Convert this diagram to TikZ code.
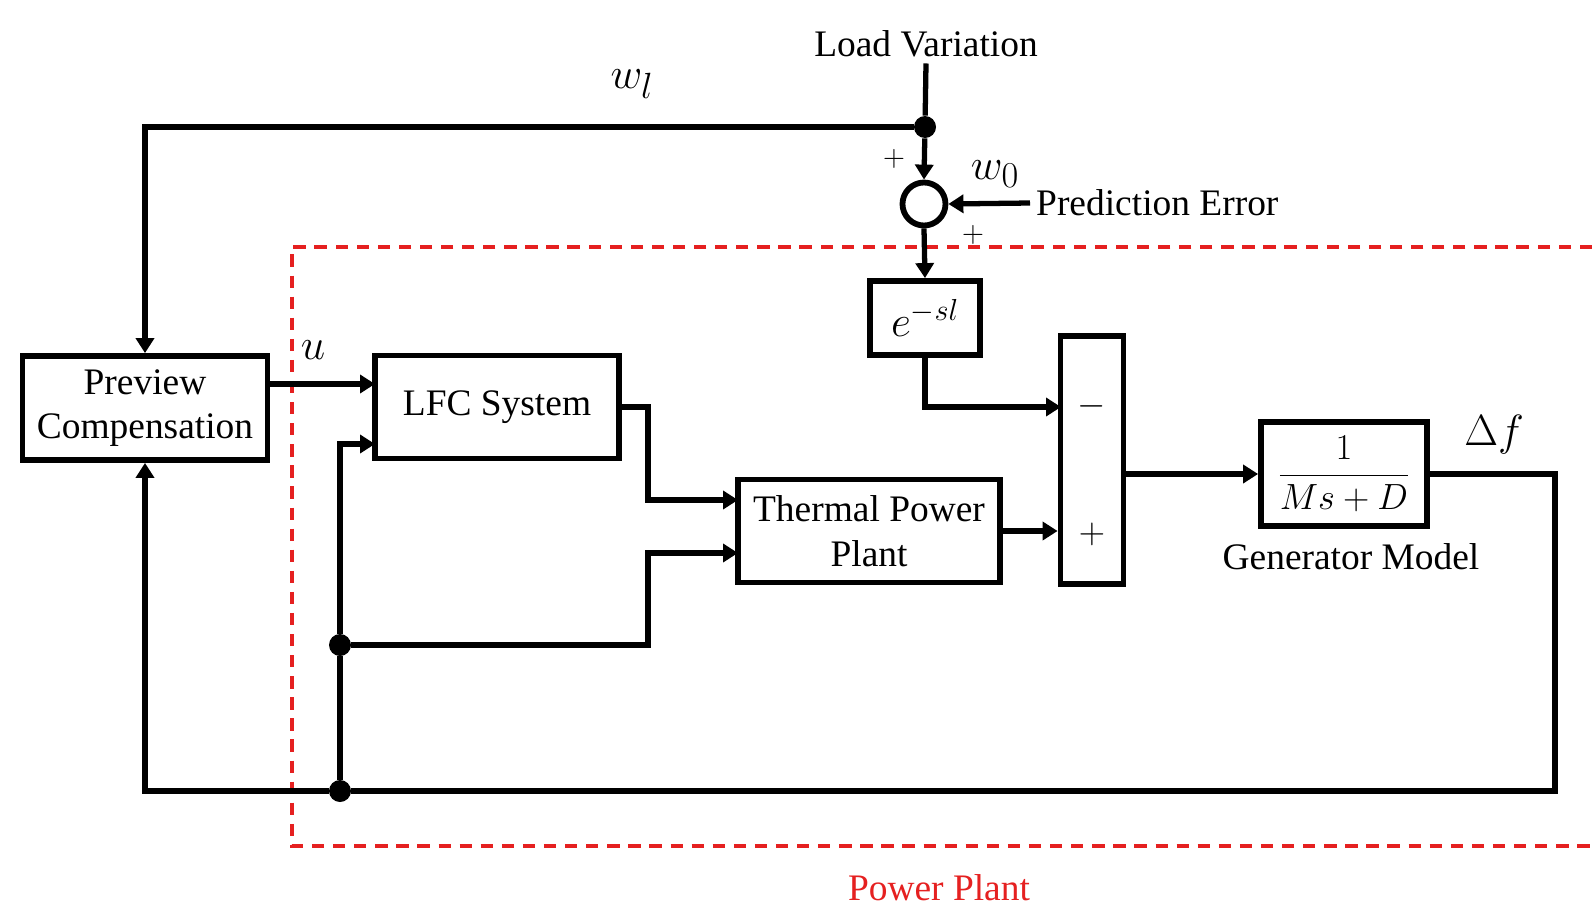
\documentclass[tikz,border=0pt]{standalone}
\usepackage{amsmath}
\usepackage{fontspec}
\setmainfont{Liberation Serif}
\usetikzlibrary{arrows.meta,positioning}
\definecolor{PlantRed}{HTML}{E52020}

\begin{document}
\begin{tikzpicture}[x=0.2mm, y=-0.2mm,
    blk/.style={draw, line width=3.3pt, align=center, inner sep=0pt,
      font=\fontsize{21.3}{25.5}\selectfont},
    wire/.style={line width=3pt},
    arr/.style={wire, -{Triangle[length=3mm, width=3.6mm]}},
    dot/.style={circle, fill, inner sep=0pt, minimum size=4.4mm},
    lab/.style={font=\fontsize{21.3}{25}\selectfont},
    sym/.style={font=\fontsize{29}{32}\selectfont},
    sgn/.style={font=\fontsize{17}{20}\selectfont}]
  \useasboundingbox (0,0) rectangle (1592,909);

  \draw[PlantRed, line width=2.4pt, dash pattern=on 7pt off 5pt]
    (1592,247) -| (292,846) -- (1592,846);
  \node[lab, text=PlantRed, inner sep=0pt] (plant) at (939,888) {Power Plant};

  \node[blk, minimum width=49mm, minimum height=20.8mm] (prev) at (145,408) {Preview\\Compensation};
  \node[blk, minimum width=48.8mm, minimum height=20.6mm] (lfc) at (497,407) {LFC System};
  \node[blk, minimum width=52.4mm, minimum height=20.6mm] (tpp) at (869,531) {Thermal Power\\Plant};
  \node[blk, minimum width=22mm, minimum height=14.8mm,
    font=\fontsize{23}{26}\selectfont] (delay) at (925,318) {$e^{-sl}$};
  \node[blk, minimum width=12.6mm, minimum height=49.6mm] (sumb) at (1092,460) {};
  \node[blk, minimum width=33.2mm, minimum height=20.8mm] (gen) at (1344,474) {$\dfrac{1}{Ms+D}$};
  \node[circle, draw, line width=3.3pt, minimum size=8.6mm, inner sep=0pt] (sumc) at (924,204) {};

  \node[lab] (load) at (926,44) {Load Variation};
  \node[lab, anchor=west] (perr) at (1030,203) {Prediction Error};
  \node[lab] (genlab) at (1351,557) {Generator Model};
  \node[sym] (wl) at (632,84) {$w_l$};
  \node[sym] (wo) at (995,174) {$w_0$};
  \node[sym] (u) at (313,350) {$u$};
  \node[sym, font=\fontsize{26}{30}\selectfont] (df) at (1494,435) {$\Delta f$};
  \node[sgn] (p1) at (894,159) {$+$};
  \node[sgn] (p2) at (973,235) {$+$};
  \node[lab] (smin) at (1092,406) {$-$};
  \node[lab] (splu) at (1092,534) {$+$};

  \node[dot] (jt) at (925,127) {};
  \node[dot] (jm) at (340,645) {};
  \node[dot] (jb) at (340,791) {};
  \coordinate (uin) at (375,384);
  \coordinate (lin) at (375,444);
  \coordinate (bendx) at (648,407);
  \coordinate (tin1) at (738,500);
  \coordinate (tin2) at (738,553);
  \coordinate (sminus) at (1061,407);
  \coordinate (fbr) at (1555,791);

  \draw[wire] (load.south) -- (jt);
  \draw[arr] (jt) -- (sumc.north);
  \draw[arr] (jt) -| (prev.north);
  \draw[arr] (perr.west) -- (sumc.east);
  \draw[arr] (sumc.south) -- (delay.north);
  \draw[arr] (delay.south) |- (sminus);
  \draw[arr] (prev.east |- uin) -- (uin);
  \draw[arr] (lfc.east) -- (bendx) |- (tin1);
  \draw[arr] (jm) -| (bendx |- tin2) -- (tin2);
  \draw[arr] (tpp.east) -- (tpp.east -| sumb.west);
  \draw[arr] (sumb.east |- gen.west) -- (gen.west);
  \draw[wire] (gen.east) -| (fbr) -- (jb);
  \draw[arr] (jb) -| (prev.south);
  \draw[wire] (jb) -- (jm);
  \draw[arr] (jm) |- (lin);
\end{tikzpicture}
\end{document}
